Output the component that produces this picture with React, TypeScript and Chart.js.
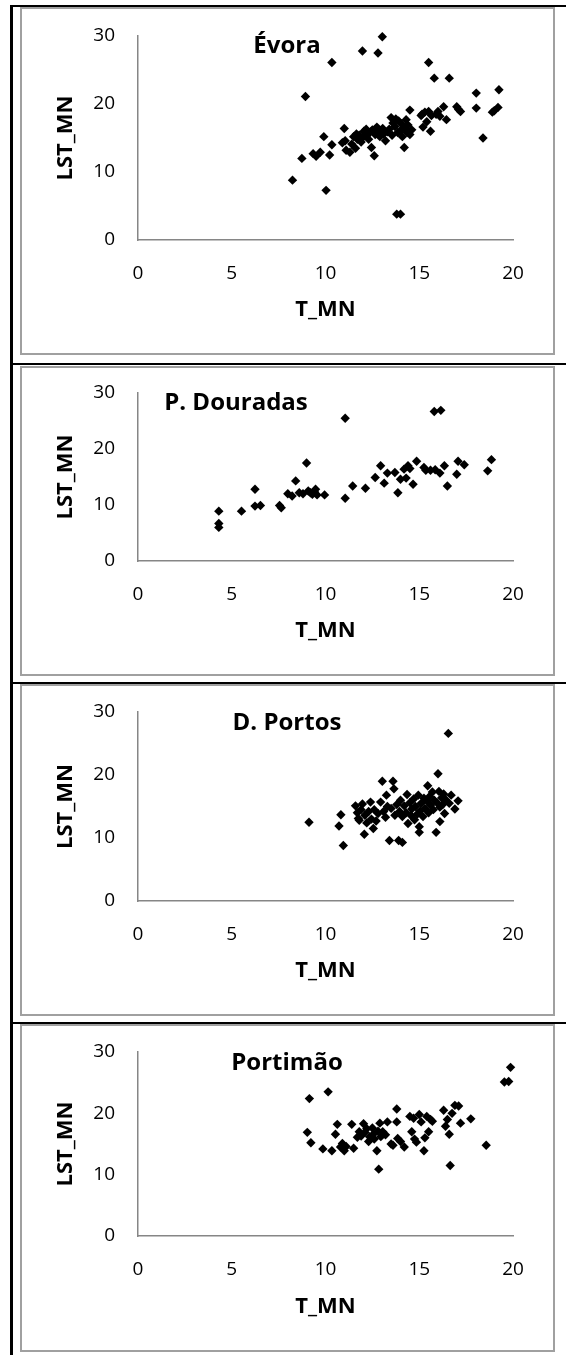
import React, { useEffect, useRef } from "react";
import { Chart, registerables } from "chart.js";
Chart.register(...registerables);

// ---------- DATA ----------
const stationNames = ["Évora", "P. Douradas", "D. Portos", "Portimão"];
const xAxisLabel = "T_MN";
const yAxisLabel = "LST_MN";
const xTickMin = 0, xTickMax = 20, xTickStep = 5;
const yTickMin = 0, yTickMax = 30, yTickStep = 10;

const evoraT = [8.24, 8.74, 8.93, 9.34, 9.5, 9.72, 9.91, 10.03, 10.22, 10.34, 10.34,
  10.9, 11.0, 11.05, 11.1, 11.3, 11.4, 11.5, 11.6, 11.65, 11.7, 11.8, 11.9, 11.97, 12.0, 12.05, 12.17, 12.2, 12.3, 12.4, 12.45, 12.5, 12.6, 12.65, 12.74, 12.8, 12.85, 12.9, 13.03, 13.05, 13.1, 13.2, 13.3, 13.4, 13.5, 13.55, 13.6, 13.7, 13.75, 13.8, 13.85, 13.9, 14.0, 14.0, 14.05, 14.1, 14.2, 14.25, 14.3, 14.35, 14.4, 14.5, 14.5, 14.6,
  15.1, 15.15, 15.2, 15.3, 15.4, 15.5, 15.5, 15.6, 15.65, 15.8, 15.9, 16.0, 16.1, 16.3, 16.45, 16.6, 17.0, 17.1, 17.2, 18.04, 18.04, 18.4, 18.9, 19.0, 19.2, 19.25];
const evoraLST = [8.8, 12.0, 21.1, 12.7, 12.3, 12.9, 15.2, 7.3, 12.5, 14.0, 26.1,
  14.3, 16.4, 14.6, 13.2, 12.9, 14.1, 15.2, 13.5, 15.6, 14.8, 15.4, 14.4, 27.8, 15.1, 16.0, 16.3, 15.3, 14.8, 15.9, 13.6, 16.2, 12.4, 15.5, 16.6, 27.5, 16.0, 15.2, 29.9, 16.4, 15.6, 14.6, 15.9, 16.3, 18.0, 15.4, 17.2, 16.7, 17.8, 3.8, 15.8, 17.5, 3.8, 16.1, 17.1, 15.2, 13.6, 16.4, 17.7, 15.8, 16.9, 19.1, 15.5, 16.2,
  18.3, 18.5, 16.6, 18.8, 17.4, 26.1, 18.9, 16.0, 18.3, 23.8, 18.5, 18.9, 18.2, 19.6, 17.7, 23.8, 19.6, 19.2, 18.9, 21.6, 19.4, 15.0, 18.8, 19.0, 19.5, 22.1];

const douradasT = [4.31, 4.31, 4.31, 5.52, 6.24, 6.24, 6.53, 7.55, 7.64, 7.99, 8.22, 8.41, 8.6, 8.8, 8.99, 9.08, 9.2, 9.3, 9.4, 9.47, 9.55, 9.95, 11.05, 11.05, 11.45, 12.13, 12.65, 12.94, 13.13, 13.3, 13.7, 13.86, 14.0, 14.19, 14.3, 14.4, 14.5, 14.67, 14.86, 15.25, 15.35, 15.6, 15.8, 16.15, 15.85, 16.1, 16.34, 16.5, 17.0, 17.07, 17.4, 18.65, 18.85];
const douradasLST = [8.9, 6.7, 6.0, 8.9, 12.8, 9.8, 9.9, 9.9, 9.5, 12.0, 11.6, 14.3, 12.2, 12.0, 17.5, 12.5, 12.2, 11.9, 12.4, 12.8, 11.8, 11.8, 25.5, 11.2, 13.4, 13.0, 14.9, 17.0, 13.9, 15.7, 15.8, 12.2, 14.6, 16.4, 14.8, 17.0, 16.5, 13.7, 17.8, 16.7, 16.2, 16.2, 26.7, 26.9, 16.3, 15.7, 17.0, 13.4, 15.5, 17.8, 17.2, 16.1, 18.1];

const portosT = [9.12, 10.72, 10.82, 10.95, 11.6, 11.7, 11.75, 11.8, 11.9, 11.97, 12.07, 12.1, 12.2, 12.3, 12.4, 12.45, 12.55, 12.6, 12.7, 12.8, 12.94, 13.03, 13.1, 13.2, 13.25, 13.3, 13.41, 13.5, 13.6, 13.65, 13.7, 13.8, 13.9, 13.95, 14.0, 14.1, 14.1, 14.2, 14.3, 14.35, 14.4, 14.5, 14.55, 14.6, 14.7, 14.75, 14.8, 14.9, 14.95, 15.0, 15.0, 15.05, 15.1, 15.2, 15.25, 15.3, 15.4, 15.45, 15.5, 15.55, 15.6, 15.7, 15.75, 15.8, 15.9, 15.95, 16.0, 16.05, 16.1, 16.1, 16.2, 16.25, 16.3, 16.35, 16.4, 16.55, 16.6, 16.7, 16.9, 17.07];
const portosLST = [12.5, 11.9, 13.7, 8.8, 15.1, 14.0, 13.1, 12.8, 14.5, 15.4, 10.6, 13.6, 12.4, 14.2, 15.7, 13.0, 11.5, 14.5, 12.7, 13.9, 15.7, 19.0, 14.2, 13.3, 16.8, 15.0, 9.6, 14.7, 19.0, 17.8, 13.6, 15.3, 9.6, 14.2, 16.0, 9.3, 13.4, 15.1, 14.0, 16.9, 12.3, 15.6, 13.6, 14.6, 16.2, 12.9, 15.0, 13.8, 16.8, 10.9, 11.8, 14.3, 15.5, 13.4, 16.3, 14.7, 15.9, 18.3, 14.0, 16.6, 15.2, 17.3, 14.5, 16.0, 10.9, 15.6, 20.2, 17.4, 12.6, 14.9, 16.4, 15.3, 17.0, 13.9, 16.1, 26.6, 15.5, 16.8, 14.6, 15.9];

const portimaoT = [9.03, 9.14, 9.22, 9.86, 10.14, 10.34, 10.53, 10.63, 10.8, 10.9, 11.0, 11.1, 11.4, 11.5, 11.7, 11.8, 11.9, 12.03, 12.1, 12.2, 12.3, 12.35, 12.5, 12.55, 12.6, 12.74, 12.8, 12.84, 12.9, 12.95, 13.05, 13.2, 13.3, 13.5, 13.6, 13.8, 13.8, 13.85, 14.0, 14.2, 14.5, 14.6, 14.7, 14.75, 14.85, 15.0, 15.1, 15.25, 15.3, 15.4, 15.5, 15.6, 15.7, 16.3, 16.4, 16.5, 16.6, 16.65, 16.75, 16.9, 17.1, 17.2, 17.75, 18.57, 19.54, 19.77, 19.87];
const portimaoLST = [16.9, 22.4, 15.2, 14.2, 23.5, 13.9, 16.6, 18.2, 14.5, 15.1, 13.9, 14.6, 18.2, 14.3, 16.1, 17.0, 16.3, 18.3, 16.9, 17.5, 15.4, 16.2, 17.6, 16.6, 15.8, 13.9, 17.1, 10.9, 18.4, 16.2, 17.0, 16.5, 18.6, 15.0, 14.8, 20.7, 18.6, 15.9, 15.4, 14.5, 19.5, 17.0, 19.2, 15.8, 15.3, 19.8, 18.6, 13.9, 16.0, 19.5, 17.0, 19.0, 18.7, 20.5, 17.9, 19.0, 16.6, 11.5, 20.0, 21.3, 21.2, 18.4, 19.1, 14.8, 25.1, 25.2, 27.5];

const seriesT = [evoraT, douradasT, portosT, portimaoT];
const seriesLST = [evoraLST, douradasLST, portosLST, portimaoLST];

// ---------- LAYOUT (page pixels) ----------
const FONT = "'Open Sans', 'Noto Sans', sans-serif";
const BOX_LEFT = 20;
const BOX_WIDTH = 535;
const panels = [
  { top: 7, height: 348, chartTop: 27, xScaleH: 113, titleX: 265, titleY: 44 },
  { top: 366, height: 310, chartTop: 25, xScaleH: 113, titleX: 214, titleY: 42 },
  { top: 684, height: 332, chartTop: 26, xScaleH: 113, titleX: 265, titleY: 44 },
  { top: 1024, height: 328, chartTop: 26, xScaleH: 114, titleX: 265, titleY: 44 },
];
const blackLinesY = [5, 363, 682, 1022];

function Panel({ idx }: { idx: number }) {
  const ref = useRef<HTMLCanvasElement | null>(null);
  const p = panels[idx];
  const cw = BOX_WIDTH - 4;
  const ch = p.height - 4;
  useEffect(() => {
    if (!ref.current) return;
    const xs = seriesT[idx];
    const ys = seriesLST[idx];
    const title = stationNames[idx];
    const titlePlugin = {
      id: "stationTitle",
      afterDraw(chart: any) {
        const ctx = chart.ctx;
        ctx.save();
        ctx.font = `bold 24px ${FONT}`;
        ctx.fillStyle = "#000";
        ctx.textAlign = "center";
        ctx.textBaseline = "alphabetic";
        ctx.fillText(title, p.titleX, p.titleY);
        ctx.restore();
      },
    };
    const chart = new Chart(ref.current, {
      type: "scatter",
      data: {
        datasets: [
          {
            data: xs.map((x, i) => ({ x, y: ys[i] })),
            pointStyle: "rectRot",
            pointRadius: 4.7,
            pointHoverRadius: 4.7,
            backgroundColor: "#000",
            borderColor: "#000",
            borderWidth: 0,
            clip: false,
          } as any,
        ],
      },
      options: {
        animation: false,
        responsive: false,
        devicePixelRatio: 1,
        layout: { padding: { top: p.chartTop, right: 40, left: 0, bottom: 0 } },
        plugins: { legend: { display: false }, tooltip: { enabled: false }, title: { display: false } },
        scales: {
          x: {
            type: "linear",
            min: xTickMin,
            max: xTickMax,
            ticks: { stepSize: xTickStep, padding: 22, color: "#000", font: { family: FONT, size: 19 } },
            grid: { display: false, drawTicks: false },
            border: { display: true, color: "#868686", width: 1.5 },
            title: { display: true, text: xAxisLabel, color: "#000", font: { family: FONT, size: 22, weight: "bold" }, padding: { top: 0, bottom: 30 } },
            afterFit: (s: any) => {
              s.height = p.xScaleH;
              s.paddingLeft = 0;
              s.paddingRight = 0;
            },
          },
          y: {
            type: "linear",
            min: yTickMin,
            max: yTickMax,
            ticks: { stepSize: yTickStep, padding: 23, color: "#000", font: { family: FONT, size: 19 } },
            grid: { display: false, drawTicks: false },
            border: { display: true, color: "#868686", width: 1.5 },
            title: { display: true, text: yAxisLabel, color: "#000", font: { family: FONT, size: 22, weight: "bold" }, padding: { top: 31, bottom: 0 } },
            afterFit: (s: any) => {
              s.width = 138 - (BOX_LEFT + 2);
              s.paddingTop = 0;
              s.paddingBottom = 0;
            },
          },
        },
      } as any,
      plugins: [titlePlugin],
    });
    return () => chart.destroy();
  }, [idx]);
  return (
    <div
      style={{
        position: "absolute",
        left: BOX_LEFT,
        top: p.top,
        width: BOX_WIDTH,
        height: p.height,
        boxSizing: "border-box",
        border: "2px solid #a0a0a0",
        background: "#fff",
      }}
    >
      <canvas ref={ref} width={cw} height={ch} style={{ display: "block", width: cw, height: ch }} />
    </div>
  );
}

export default function App() {
  return (
    <div style={{ position: "absolute", left: 0, top: 0, width: 566, height: 1355, background: "#fff", overflow: "hidden" }}>
      <div style={{ position: "absolute", left: 10, top: 5, width: 3, height: 1350, background: "#000" }} />
      {blackLinesY.map((y, i) => (
        <div key={i} style={{ position: "absolute", left: 10, top: y, width: 556, height: 2, background: "#000" }} />
      ))}
      {panels.map((_, i) => (
        <Panel key={i} idx={i} />
      ))}
    </div>
  );
}
